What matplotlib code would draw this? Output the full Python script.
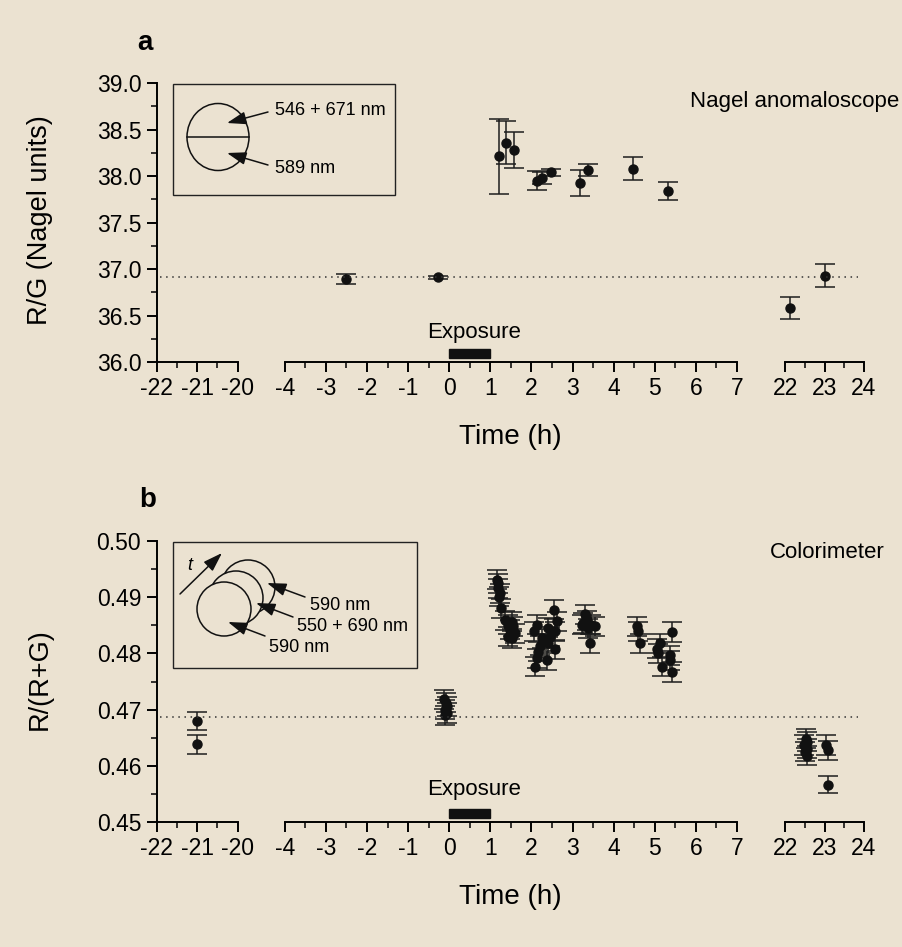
import matplotlib.pyplot as plt
from matplotlib.patches import Rectangle, Ellipse, Circle
from matplotlib.ticker import MultipleLocator

plt.rcParams['font.family'] = ['Liberation Sans', 'DejaVu Sans']

# ---- data ----
# panel a: Nagel anomaloscope, R/G in Nagel units
nagel_t = [-2.52, -0.27, 1.22, 1.37, 1.57, 2.13, 2.26, 2.47, 3.17, 3.37,
           4.48, 5.33, 22.13, 23.0]
nagel_v = [36.89, 36.91, 38.21, 38.36, 38.28, 37.95, 37.98, 38.04, 37.92,
           38.06, 38.08, 37.84, 36.58, 36.93]
nagel_err = [0.055, 0.02, 0.40, 0.235, 0.19, 0.10, 0.065, 0.04, 0.14,
             0.065, 0.125, 0.093, 0.12, 0.12]
nagel_base = 36.91

# panel b: colorimeter, R/(R+G)
color_t = [-21.0, -21.0,
           -0.12, -0.08, -0.05, -0.10, -0.06, -0.10,
           1.16, 1.19, 1.18, 1.23, 1.21, 1.27, 1.36, 1.44, 1.52, 1.48, 1.44,
           1.52, 1.60, 1.56,
           2.05, 2.13, 2.25, 2.21, 2.17, 2.13, 2.09, 2.37, 2.41, 2.45, 2.41,
           2.57, 2.57, 2.61, 2.56,
           3.30, 3.26, 3.34, 3.22, 3.46, 3.55, 3.38, 3.42,
           4.56, 4.60, 4.64, 5.13, 5.09, 5.17, 5.37, 5.37, 5.41, 5.41, 5.05,
           22.52, 22.56, 22.48, 22.55, 22.50, 22.55, 23.03, 23.10, 23.10]
color_v = [0.4679, 0.4638,
           0.4718, 0.4712, 0.4706, 0.4700, 0.4694, 0.4690,
           0.4931, 0.4925, 0.4916, 0.4907, 0.4901, 0.4880, 0.4859, 0.4851,
           0.4856, 0.4842, 0.4830, 0.4827, 0.4836, 0.4848,
           0.4839, 0.4851, 0.4827, 0.4814, 0.4803, 0.4791, 0.4776, 0.4788,
           0.4846, 0.4830, 0.4818, 0.4807, 0.4839, 0.4857, 0.4878,
           0.4870, 0.4854, 0.4859, 0.4851, 0.4851, 0.4848, 0.4845, 0.4818,
           0.4848, 0.4839, 0.4818, 0.4818, 0.4800, 0.4776, 0.4797, 0.4788,
           0.4767, 0.4838, 0.4808,
           0.4648, 0.4643, 0.4637, 0.4630, 0.4625, 0.4618, 0.4637, 0.4628,
           0.4566]
color_err = [0.0016, 0.0017] + [0.0017] * 62 + [0.0015]
color_base = 0.4687

segments = [(-22, -20), (-4, 7), (22, 24)]
tick_labels = {s: [str(i) for i in range(s[0], s[1] + 1)] for s in segments}

# ---- layout (pixels) ----
W, H = 902, 947
BG = '#ebe2d1'
seg_px = [(156.5, 237.6), (284.8, 737.0), (785.4, 863.6)]


def fx(px):
    return px / W


def fy(py):
    return 1 - py / H


fig = plt.figure(figsize=(W / 100, H / 100), dpi=100)
fig.patch.set_facecolor(BG)


def make_panel(top_px, bot_px, ylim, major, minor, fmt, ylabel, t, v, err,
               base, bar_lo, bar_hi, expo_y):
    axes = []
    for k, (seg, (x0, x1)) in enumerate(zip(segments, seg_px)):
        ax = fig.add_axes([fx(x0), fy(bot_px), fx(x1) - fx(x0),
                           fy(top_px) - fy(bot_px)])
        ax.patch.set_visible(False)
        ax.set_xlim(seg)
        ax.set_ylim(ylim)
        for s in ['top', 'right']:
            ax.spines[s].set_visible(False)
        ax.spines['bottom'].set_linewidth(1.4)
        ax.spines['left'].set_linewidth(1.4)
        ax.xaxis.set_minor_locator(MultipleLocator(0.5))
        ax.set_xticks(range(seg[0], seg[1] + 1))
        ax.set_xticklabels(tick_labels[seg])
        ax.tick_params(axis='x', which='major', length=7, width=1.4,
                       labelsize=16.5, pad=4)
        ax.tick_params(axis='x', which='minor', length=4, width=1.1)
        if k == 0:
            ax.yaxis.set_major_locator(MultipleLocator(major))
            ax.yaxis.set_minor_locator(MultipleLocator(minor))
            ticks = ax.get_yticks()
            ax.set_yticks(ticks)
            ax.set_yticklabels([fmt.format(y) for y in ticks])
            ax.set_ylim(ylim)
            ax.tick_params(axis='y', which='major', length=7, width=1.4,
                           labelsize=16.5, pad=4)
            ax.tick_params(axis='y', which='minor', length=4, width=1.1)
        else:
            ax.spines['left'].set_visible(False)
            ax.tick_params(axis='y', which='both', left=False,
                           labelleft=False)
        sel = [i for i, x in enumerate(t) if seg[0] <= x <= seg[1]]
        if sel:
            ax.errorbar([t[i] for i in sel], [v[i] for i in sel],
                        yerr=[err[i] for i in sel], fmt='o', ms=6.5,
                        color='#111111', ecolor='#1e1e1e', elinewidth=1.1,
                        capsize=7, capthick=1.1, clip_on=False)
        if seg == (-4, 7):
            ax.add_patch(Rectangle((0, bar_lo), 1, bar_hi - bar_lo,
                                   color='#111111', clip_on=False))
            ax.text(0.6, expo_y, 'Exposure', fontsize=16, ha='center',
                    va='center')
        axes.append(ax)

    # dotted baseline running through the axis breaks
    ov = fig.add_axes([0, fy(bot_px), 1, fy(top_px) - fy(bot_px)])
    ov.set_xlim(0, W)
    ov.set_ylim(ylim)
    ov.axis('off')
    ov.hlines(base, 160, 858, colors='#333333', linestyles=(0, (1, 3)),
              lw=1.1)

    fig.text(fx(40), fy((top_px + bot_px) / 2 - 2), ylabel, rotation=90,
             fontsize=19.5, ha='center', va='center')
    fig.text(fx(510), fy(bot_px + 75), 'Time (h)', fontsize=20,
             ha='center', va='center')
    return axes


make_panel(83, 362, (36.0, 39.0), 0.5, 0.25, '{:.1f}',
           'R/G (Nagel units)', nagel_t, nagel_v, nagel_err, nagel_base,
           36.04, 36.14, 36.32)
make_panel(541, 822, (0.45, 0.50), 0.01, 0.005, '{:.2f}', 'R/(R+G)',
           color_t, color_v, color_err, color_base, 0.4508, 0.4523, 0.4557)

# ---- overlay for panel letters, captions and schematic insets ----
ov = fig.add_axes([0, 0, 1, 1])
ov.set_xlim(0, W)
ov.set_ylim(H, 0)
ov.axis('off')

ov.text(145, 43, 'a', fontsize=20, fontweight='bold', ha='center',
        va='center')
ov.text(148, 500, 'b', fontsize=20, fontweight='bold', ha='center',
        va='center')
ov.text(690, 101, 'Nagel anomaloscope', fontsize=16, ha='left', va='center')
ov.text(770, 552, 'Colorimeter', fontsize=16, ha='left', va='center')

arrow = dict(arrowstyle='-|>,head_length=0.9,head_width=0.3',
             color='#111111', lw=1.1, mutation_scale=13,
             shrinkA=0, shrinkB=0)

# inset a: split field
ov.add_patch(Rectangle((173, 84), 222, 111, fill=False, ec='#222222', lw=1))
ov.add_patch(Ellipse((218, 137), 62, 67, fill=False, ec='#111111', lw=1.1))
ov.plot([187, 249], [137, 137], color='#111111', lw=1.1)
ov.annotate('', xy=(227, 123), xytext=(268, 112), arrowprops=arrow)
ov.annotate('', xy=(227, 153), xytext=(268, 165), arrowprops=arrow)
ov.text(275, 110, '546 + 671 nm', fontsize=13, ha='left', va='center')
ov.text(275, 168, '589 nm', fontsize=13, ha='left', va='center')

# inset b: moving circles
ov.add_patch(Rectangle((173, 542), 244, 126, fill=False, ec='#222222', lw=1))
for cx, cy in [(248, 587), (236, 598), (224, 609)]:
    ov.add_patch(Circle((cx, cy), 27, fc=BG, ec='#111111', lw=1.1))
ov.annotate('', xy=(222, 553), xytext=(180, 594), arrowprops=arrow)
ov.text(190, 565, 't', fontsize=13, style='italic', ha='center', va='center')
ov.annotate('', xy=(267, 583), xytext=(305, 597), arrowprops=arrow)
ov.annotate('', xy=(256, 603), xytext=(293, 617), arrowprops=arrow)
ov.annotate('', xy=(228, 622), xytext=(265, 636), arrowprops=arrow)
ov.text(310, 605, '590 nm', fontsize=13, ha='left', va='center')
ov.text(297, 626, '550 + 690 nm', fontsize=13, ha='left', va='center')
ov.text(269, 647, '590 nm', fontsize=13, ha='left', va='center')

fig.savefig('out.png', dpi=100, facecolor=BG)
